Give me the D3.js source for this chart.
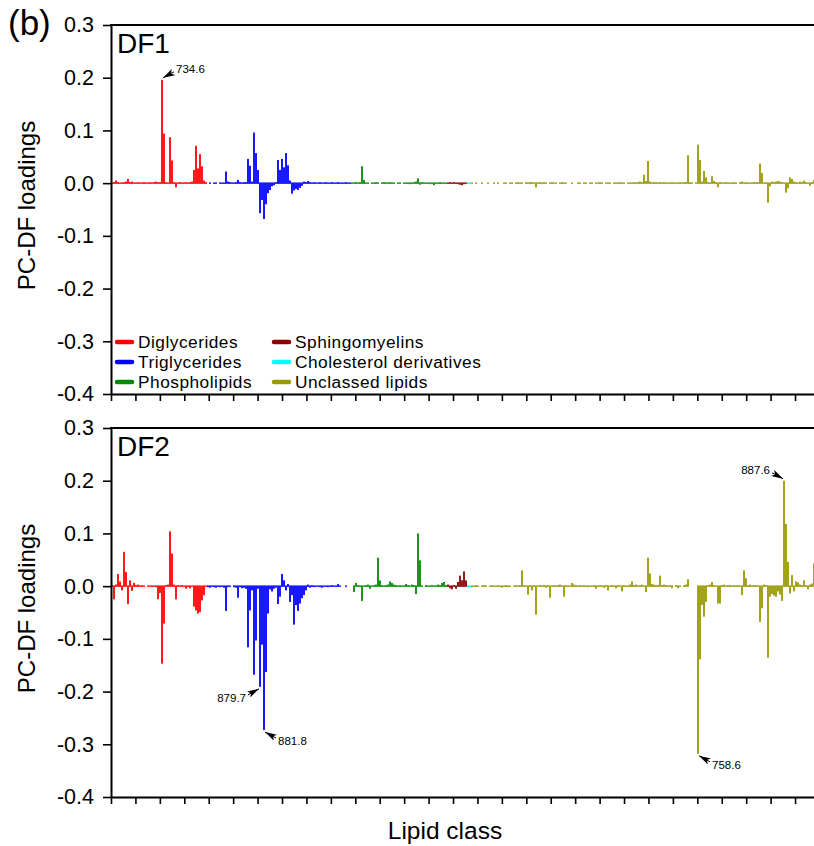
<!DOCTYPE html>
<html>
<head>
<meta charset="utf-8">
<script src="https://cdn.jsdelivr.net/npm/d3@7"></script>
<style>
    body { margin: 0; background: #fff; }
    svg { display: block; font-family: "Liberation Sans", Arial, sans-serif; }
</style>
</head>
<body>
<div id="chart"></div>
<script>
// lipid classes, in the order the variables run along the x axis
const classNames = ["Diglycerides", "Triglycerides", "Phospholipids",
    "Sphingomyelins", "Cholesterol derivatives", "Unclassed lipids"];
const classColors = ["#ff0000", "#0000ff", "#008a00", "#8b0000", "#00ffff", "#999900"];

const yTicks = [0.3, 0.2, 0.1, 0.0, -0.1, -0.2, -0.3, -0.4];

// DF1 loadings, one value per variable (0 = no bar)
const df1Diglycerides = [
    0.001, 0.002, 0.005, 0.002, 0.001, 0.001, 0.002, 0.003, 0.008, 0.002, 0.003, 0.001,
    0.001, 0.002, 0.001, 0.001, 0.002, 0.001, 0.001, 0.002, 0.001, 0.002, 0.003, 0.002,
    0.002, 0.196, 0.094, 0.002, 0.001, 0.087, 0.043, 0.002, -0.008, 0.001, 0.002, 0.001,
    0.001, 0.002, 0.001, 0.002, 0.003, 0.025, 0.071, 0.028, 0.055, 0.032, 0.005, 0.002];
const df1Triglycerides = [
    0, 0.001, 0, 0.001, 0.001, 0, 0.001, 0.001, 0.001, 0.022, 0.003, 0.002,
    0.001, 0.001, 0.002, 0.006, 0.002, 0.001, 0.002, 0.002, 0.046, 0.033, 0.003, 0.096,
    0.057, 0.025, -0.057, -0.032, -0.068, -0.040, -0.019, -0.013, -0.006, -0.004, 0.002, 0.044,
    0.025, 0.046, 0.030, 0.057, 0.034, 0.005, -0.020, -0.014, -0.011, -0.013, -0.009, -0.005,
    0.003, 0.002, 0.004, 0.002, 0.001, 0.002, 0.001, 0.001, 0.002, 0.001, 0.001, 0.002,
    0.001, 0.001, 0.002, 0.001, 0.001, 0.002, 0.001, 0.001, 0.001, 0.002, 0.001, 0.001];
const df1Phospholipids = [
    0.001, 0.001, 0.002, 0.001, 0.002, 0.032, 0.006, 0.001, 0.001, 0, 0.001, 0.001,
    0.002, 0.001, 0, 0.001, 0.002, 0.001, 0.001, 0.002, 0.001, 0.001, 0, 0.001,
    0.001, 0, 0.001, 0.001, -0.001, -0.002, -0.001, 0.002, 0.003, 0.009, -0.003, 0.002,
    0.001, -0.001, 0.001, -0.002, -0.001, -0.004, -0.001, 0.001, 0.002, 0.001, 0.001, 0.001];
const df1Sphingomyelins = [0.001, 0.002, 0.001, 0.002, 0.001, -0.002, -0.003, -0.004, -0.002, 0.001];
const df1Cholesterol = [0.001, 0.001];
const df1Unclassed = [
    0.001, 0, 0.001, 0, 0, 0.001, 0, 0, 0.001, 0,
    0, 0.001, 0, 0.001, 0, 0, 0.001, 0.001, 0, 0.001,
    0.001, 0, 0.001, 0.002, 0.001, 0.001, 0, 0.002, 0.001, 0.002,
    0.002, 0.001, -0.008, 0.001, 0.002, 0.001, 0.002, 0.001, 0, 0.001,
    0.002, 0.001, 0.001, 0, 0.001, 0.002, 0.001, 0.001, 0, 0,
    0.001, 0, 0, 0.001, 0.001, 0, 0.001, 0.001, 0, 0.001,
    0.001, 0, 0.001, 0.001, 0.002, 0.001, 0, 0.001, 0.001, 0.001,
    0, 0.001, 0.001, 0.001, 0.002, 0.001, 0.001, 0, 0.001, 0.001,
    0.001, 0.002, 0.001, 0.002, 0.003, 0.002, 0.016, 0.004, 0.042, 0.003,
    0.001, 0.002, 0.002, 0.001, 0.002, 0.001, 0.002, 0.001, 0.001, 0.001,
    0.002, 0.001, 0.001, 0.001, 0.002, 0.001, 0.002, 0.002, 0.053, 0.002,
    0.001, 0, 0.001, 0.073, 0.044, 0.003, 0.023, 0.011, 0.002, 0.001,
    0.013, 0.004, 0.002, -0.008, 0.002, 0.001, 0.001, 0.002, 0.001, 0.001,
    0.001, 0.002, 0.001, 0, 0.002, 0.003, 0.001, 0.002, 0.001, 0.001,
    0.001, 0.002, 0.002, 0.002, 0.037, 0.019, 0.001, 0.002, -0.037, -0.006,
    0.003, 0.002, 0.003, 0.004, 0.003, 0.002, 0.001, -0.018, -0.010, 0.011,
    0.008, 0.003, 0.002, 0.001, 0.003, 0.002, 0.005, 0.002, 0.001, -0.005,
    0.002, 0.006];

// DF2 loadings
const df2Diglycerides = [
    0.002, -0.025, 0.003, 0.023, 0.009, -0.008, 0.065, 0.027, -0.034, 0.011, -0.009, 0.006,
    0.002, 0.003, 0.001, 0.002, 0.001, 0, -0.001, 0.001, -0.002, -0.001, -0.002, -0.025,
    -0.013, -0.147, -0.071, 0.002, 0.003, 0.104, 0.062, 0.003, -0.025, 0.002, 0.001, 0.002,
    0.001, -0.005, -0.002, -0.004, 0.001, -0.039, -0.046, -0.052, -0.049, -0.027, -0.017, 0.001];
const df2Triglycerides = [
    -0.002, -0.003, -0.001, -0.002, -0.003, -0.001, -0.002, -0.001, -0.003, -0.047, -0.002, -0.001,
    0, -0.002, -0.003, -0.022, -0.002, -0.004, -0.003, -0.005, -0.116, -0.046, -0.008, -0.168,
    -0.103, -0.005, -0.191, -0.111, -0.273, -0.163, -0.052, -0.006, -0.010, -0.005, -0.003, -0.034,
    -0.020, 0.023, 0.011, -0.008, 0.004, -0.030, -0.017, -0.073, -0.036, -0.047, -0.033, -0.023,
    -0.017, -0.008, 0.003, -0.003, 0.002, -0.002, -0.001, 0.001, -0.002, -0.003, -0.001, 0.001,
    -0.002, -0.001, 0.002, -0.001, 0.001, 0.004, 0.001, 0, 0, 0.001, 0, 0];
const df2Phospholipids = [
    0, -0.011, 0.006, 0.002, -0.002, -0.028, 0.001, 0.002, 0.003, -0.005, 0.001, 0.002,
    0.003, 0.054, 0.011, 0.002, 0.001, 0.002, 0.003, 0.009, 0.006, 0.003, 0.002, 0.001,
    0.002, 0.001, 0.001, 0.004, 0.002, 0.001, 0.003, 0.002, -0.015, 0.100, 0.049, 0.001,
    0, 0.002, 0.001, 0.001, 0.002, 0.001, 0.001, 0.003, 0.002, 0.006, 0.008, 0.002];
const df2Sphingomyelins = [0.003, -0.004, -0.006, 0.002, -0.005, 0.008, 0.020, 0.011, 0.028, 0.011];
const df2Cholesterol = [-0.003, -0.002];
const df2Unclassed = [
    -0.002, 0.001, 0.002, 0.001, 0, 0.001, 0.002, 0.001, 0, 0.001,
    0.002, 0.001, 0.001, 0.002, 0.001, -0.003, 0.001, 0.002, -0.002, 0.001,
    0, 0.001, 0.002, 0.001, 0.002, 0.030, 0.002, 0.001, -0.016, 0.002,
    -0.008, 0.002, -0.054, 0.001, 0.002, 0.001, 0.002, -0.003, 0.002, -0.022,
    0.001, 0.002, 0.001, 0.002, 0.003, 0.001, -0.020, 0.002, 0.001, 0.001,
    0.006, 0.003, 0.002, 0.001, 0.002, 0.001, 0.002, 0.001, -0.002, 0.001,
    0.001, 0.002, -0.005, 0.001, 0.002, 0.001, -0.003, 0.002, -0.008, 0.001,
    0.002, 0.001, -0.004, 0.002, 0.001, -0.010, 0.002, 0.001, -0.002, 0.003,
    0.009, 0.002, 0.003, 0.001, 0.002, 0.003, 0.001, -0.011, 0.054, 0.024,
    0.004, 0.003, 0.002, 0.002, 0.020, 0.002, 0.003, 0.002, 0.001, 0.002,
    -0.004, 0, 0.002, -0.004, 0.001, 0, 0.002, 0.003, 0.013, 0,
    0, 0, 0, -0.318, -0.139, -0.036, -0.058, -0.030, 0.002, 0.003,
    0.008, 0.002, 0.001, -0.033, -0.033, 0.002, 0.003, 0.001, 0.002, 0.002,
    0.001, 0.002, 0.001, 0.002, 0.001, -0.017, 0.030, 0.015, 0.002, 0.003,
    0.001, 0.002, 0.002, 0.001, -0.068, -0.042, 0.003, 0.002, -0.136, -0.020,
    -0.015, -0.018, -0.020, -0.010, -0.016, -0.028, 0.200, 0.118, 0.046, -0.014,
    0.021, -0.010, 0.009, 0.007, 0.003, 0.002, 0.011, 0.002, -0.006, 0.003,
    0.005, 0.043];

// labelled peaks: variable index and m/z text
const df1Labels = [{ index: 25, text: "734.6" }];
const df2Labels = [
    { index: 74, text: "879.7" },
    { index: 76, text: "881.8" },
    { index: 293, text: "758.6" },
    { index: 336, text: "887.6" }];

function init() {
    const width = 814, height = 846;
    const leftLabels = ["879.7", "887.6"];   // these labels sit left of their bar

    let svg = d3.select("#chart")
        .append("svg")
        .attr("width", width)
        .attr("height", height);

    svg.append("defs").append("marker")
        .attr("id", "arrow")
        .attr("viewBox", "0 0 12 7")
        .attr("refX", 12).attr("refY", 3.5)
        .attr("markerWidth", 12).attr("markerHeight", 7)
        .attr("markerUnits", "userSpaceOnUse")
        .attr("orient", "auto")
        .append("path")
        .attr("d", "M0,0 L12,3.5 L0,7 L3,3.5 Z")
        .attr("fill", "#000");

    let color = d3.scaleOrdinal(classNames, classColors);

    let panels = [
        { title: "DF1", top: 25, bottom: 394, legend: true, labels: df1Labels,
          series: [df1Diglycerides, df1Triglycerides, df1Phospholipids, df1Sphingomyelins, df1Cholesterol, df1Unclassed] },
        { title: "DF2", top: 428, bottom: 797, legend: false, labels: df2Labels,
          series: [df2Diglycerides, df2Triglycerides, df2Phospholipids, df2Sphingomyelins, df2Cholesterol, df2Unclassed] }
    ];

    let nVars = d3.sum(panels[0].series, s => s.length);
    let x = d3.scaleLinear().domain([0, nVars]).range([111, 815]);
    let xTicks = d3.range(29).map(k => k * 12.215);
    let step = x(1) - x(0);

    panels.forEach(function (p) {
        let y = d3.scaleLinear().domain([-0.4, 0.3]).range([p.bottom, p.top]);
        let y0 = y(0);
        let g = svg.append("g");

        // flatten the class arrays into one run of variables
        let rows = [];
        let offset = 0;
        p.series.forEach(function (vals, c) {
            vals.forEach(function (v, j) {
                rows.push({ i: offset + j, v: v, cls: classNames[c] });
            });
            offset += vals.length;
        });

        g.selectAll("rect.bar")
            .data(rows.filter(d => d.v !== 0))
            .join("rect")
            .attr("class", "bar")
            .attr("x", d => x(d.i) + 0.1)
            .attr("width", step - 0.2)
            .attr("y", d => Math.min(y(d.v), y0 - 0.75))
            .attr("height", d => Math.max(y(d.v), y0 + 0.75) - Math.min(y(d.v), y0 - 0.75))
            .attr("fill", d => color(d.cls));

        // frame: top line, left axis, bottom axis
        g.append("line")
            .attr("x1", x(0) - 1).attr("x2", width + 2)
            .attr("y1", p.top).attr("y2", p.top)
            .attr("stroke", "#000").attr("stroke-width", 2);

        let yAxis = g.append("g")
            .attr("transform", "translate(" + x(0) + ",0)")
            .call(d3.axisLeft(y).tickValues(yTicks).tickSize(8).tickSizeOuter(0)
                .tickPadding(9).tickFormat(d => d.toFixed(1)));

        let xAxis = g.append("g")
            .attr("transform", "translate(0," + p.bottom + ")")
            .call(d3.axisBottom(x).tickValues(xTicks).tickSize(7).tickSizeOuter(0).tickFormat(""));

        [yAxis, xAxis].forEach(function (a) {
            a.select(".domain").attr("stroke", "#000").attr("stroke-width", 2);
            a.selectAll(".tick line").attr("stroke", "#000").attr("stroke-width", 1.6);
            a.selectAll(".tick text").attr("fill", "#000").style("font-size", "21.5px")
                .style("font-family", "'Liberation Sans', Arial, sans-serif");
        });

        g.append("text")
            .attr("x", 117).attr("y", p.top + 28)
            .style("font-size", "28px")
            .text(p.title);

        g.append("text")
            .attr("transform", "translate(35," + ((p.top + p.bottom) / 2 - 4) + ") rotate(-90)")
            .attr("text-anchor", "middle")
            .style("font-size", "24px")
            .text("PC-DF loadings");

        // arrows pointing to the labelled peaks
        p.labels.forEach(function (lab) {
            let v = rows[lab.index].v;
            let cx = x(lab.index) + step / 2;
            let by = y(v);
            let sx = leftLabels.includes(lab.text) ? -1 : 1;
            let sy = v > 0 ? -1 : 1;
            g.append("line")
                .attr("x1", cx + sx * 12).attr("y1", by + sy * 8)
                .attr("x2", cx + sx * 1).attr("y2", by + sy * 2)
                .attr("stroke", "#000").attr("stroke-width", 1)
                .attr("marker-end", "url(#arrow)");
            g.append("text")
                .attr("x", cx + sx * 14)
                .attr("y", by + (sy < 0 ? -7 : 15))
                .attr("text-anchor", sx < 0 ? "end" : "start")
                .style("font-size", "11.5px")
                .text(lab.text);
        });

        if (p.legend) {
            let leg = g.selectAll("g.legend")
                .data(classNames)
                .join("g")
                .attr("class", "legend")
                .attr("transform", (d, k) => "translate(" + [117, 274][Math.floor(k / 3)] + "," + [342, 362, 382][k % 3] + ")");
            leg.append("line")
                .attr("x1", 0).attr("x2", 15)
                .attr("stroke", d => color(d))
                .attr("stroke-width", 4.5)
                .attr("stroke-linecap", "round");
            leg.append("text")
                .attr("x", 21).attr("dy", "0.35em")
                .style("font-size", "17.3px")
                .style("letter-spacing", "0.5px")
                .text(d => d);
        }
    });

    svg.append("text")
        .attr("x", 8).attr("y", 35)
        .style("font-size", "35px")
        .text("(b)");

    svg.append("text")
        .attr("x", 445).attr("y", 839)
        .attr("text-anchor", "middle")
        .style("font-size", "24.5px")
        .text("Lipid class");
}

window.addEventListener('load', init);
</script>
</body>
</html>
